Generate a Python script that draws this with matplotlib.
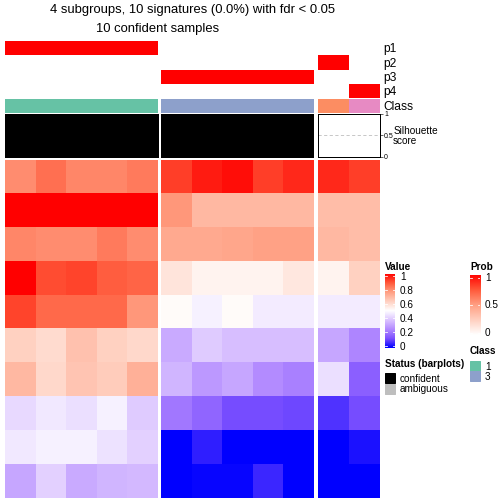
import matplotlib
matplotlib.use("Agg")
import matplotlib.pyplot as plt
import numpy as np
from matplotlib.colors import LinearSegmentedColormap
from matplotlib.patches import Rectangle

plt.rcParams['font.family'] = ['Liberation Sans', 'DejaVu Sans']

W = H = 504

# ---- data ----
group_sizes = [5, 5, 2]
class_labels = [1, 1, 1, 1, 1, 3, 3, 3, 3, 3, 2, 4]
class_colors = {1: "#66C2A5", 2: "#FC8D62", 3: "#8DA0CB", 4: "#E78AC3"}
legend_classes = [1, 3]

prob_names = ["p1", "p2", "p3", "p4"]
prob_p1 = [1, 1, 1, 1, 1, 0, 0, 0, 0, 0, 0, 0]
prob_p2 = [0, 0, 0, 0, 0, 0, 0, 0, 0, 0, 1, 0]
prob_p3 = [0, 0, 0, 0, 0, 1, 1, 1, 1, 1, 0, 0]
prob_p4 = [0, 0, 0, 0, 0, 0, 0, 0, 0, 0, 0, 1]

silhouette = [1, 1, 1, 1, 1, 1, 1, 1, 1, 1, 0, 0]

values = [
    [0.78, 0.83, 0.79, 0.79, 0.81, 0.91, 0.96, 0.98, 0.91, 0.94, 0.94, 0.91],
    [1.00, 1.00, 1.00, 1.00, 1.00, 0.76, 0.68, 0.68, 0.68, 0.68, 0.67, 0.67],
    [0.79, 0.78, 0.78, 0.81, 0.78, 0.72, 0.72, 0.73, 0.74, 0.74, 0.68, 0.67],
    [1.00, 0.89, 0.90, 0.86, 0.85, 0.57, 0.53, 0.53, 0.53, 0.56, 0.53, 0.62],
    [0.90, 0.84, 0.84, 0.84, 0.76, 0.51, 0.47, 0.51, 0.46, 0.46, 0.46, 0.46],
    [0.62, 0.59, 0.66, 0.62, 0.60, 0.32, 0.39, 0.36, 0.36, 0.36, 0.31, 0.24],
    [0.68, 0.60, 0.65, 0.63, 0.70, 0.34, 0.28, 0.31, 0.25, 0.23, 0.43, 0.16],
    [0.42, 0.45, 0.43, 0.47, 0.39, 0.21, 0.17, 0.12, 0.12, 0.11, 0.08, 0.12],
    [0.45, 0.47, 0.47, 0.44, 0.40, 0.00, 0.05, 0.00, 0.00, 0.00, 0.00, 0.03],
    [0.31, 0.40, 0.32, 0.34, 0.35, 0.00, 0.01, 0.01, 0.06, 0.00, 0.00, 0.00],
]

title_line1 = "4 subgroups, 10 signatures (0.0%) with fdr < 0.05"
title_line2 = "10 confident samples"

# ---- colours ----
value_stops = [(0.0, (0, 0, 255)), (0.125, (126, 81, 255)), (0.25, (179, 139, 255)),
               (0.375, (220, 197, 255)), (0.5, (255, 255, 255)), (0.625, (255, 207, 191)),
               (0.75, (255, 158, 129)), (0.875, (255, 87, 56)), (1.0, (255, 0, 0))]
value_cmap = LinearSegmentedColormap.from_list(
    "val", [(p, tuple(c / 255 for c in col)) for p, col in value_stops])
prob_stops = [(0.0, (255, 255, 255)), (0.25, (255, 207, 191)), (0.5, (255, 158, 129)),
              (0.75, (255, 87, 56)), (1.0, (255, 0, 0))]
prob_cmap = LinearSegmentedColormap.from_list(
    "prob", [(p, tuple(c / 255 for c in col)) for p, col in prob_stops])

fig = plt.figure(figsize=(W / 72, H / 72), dpi=72)


def px_axes(x0, y0, x1, y1):
    return fig.add_axes([x0 / W, 1 - y1 / H, (x1 - x0) / W, (y1 - y0) / H])


def bare(ax):
    ax.set_xticks([])
    ax.set_yticks([])
    for s in ax.spines.values():
        s.set_visible(False)


def ftext(x, y, s, **kw):
    kw.setdefault('ha', 'left')
    kw.setdefault('va', 'center')
    fig.text(x / W, 1 - y / H, s, **kw)


group_x = [(5, 158), (160.5, 313), (318, 380)]
vals = np.array(values)
probs = np.array([prob_p1, prob_p2, prob_p3, prob_p4])
prob_rows = [(41, 55.5), (55.5, 69.7), (69.7, 83.8), (83.8, 97.8)]

start = 0
for gi, n in enumerate(group_sizes):
    x0, x1 = group_x[gi]
    cols = slice(start, start + n)

    # probability rows
    for ri, (y0, y1) in enumerate(prob_rows):
        ax = px_axes(x0, y0, x1, y1)
        ax.imshow(probs[ri:ri + 1, cols], cmap=prob_cmap, vmin=0, vmax=1,
                  aspect='auto', interpolation='nearest')
        bare(ax)

    # class row
    ax = px_axes(x0, 99, x1, 113)
    ccols = [matplotlib.colors.to_rgb(class_colors[c]) for c in class_labels[cols]]
    ax.imshow([ccols], aspect='auto', interpolation='nearest')
    bare(ax)

    # silhouette barplot
    ax = px_axes(x0, 114, x1, 156.5)
    sil = silhouette[cols]
    ax.axhline(0.5, color='#bbbbbb', lw=0.8, ls=(0, (4, 3)), zorder=0)
    ax.bar(np.arange(n) + 0.5, sil, width=1.0, color='black', zorder=2)
    ax.set_xlim(0, n)
    ax.set_ylim(0, 1)
    ax.set_xticks([])
    for s in ax.spines.values():
        s.set_linewidth(1.0)
    if gi == len(group_sizes) - 1:
        ax.yaxis.tick_right()
        ax.set_yticks([0, 0.5, 1])
        ax.set_yticklabels(["0", "0.5", "1"], fontsize=7)
        ax.tick_params(axis='y', length=3, width=0.6, pad=1)
    else:
        ax.set_yticks([])

    # heatmap body
    ax = px_axes(x0, 160, x1, 498.5)
    ax.imshow(vals[:, cols], cmap=value_cmap, vmin=0, vmax=1,
              aspect='auto', interpolation='nearest')
    bare(ax)
    start += n

# titles
ftext(193, 10, title_line1, ha='center', fontsize=13)
ftext(158, 29, title_line2, ha='center', fontsize=13)

# annotation names
for name, (y0, y1) in zip(prob_names, prob_rows):
    ftext(383, (y0 + y1) / 2 + 1, name, fontsize=12)
ftext(383, 107, "Class", fontsize=12)
ftext(394, 131, "Silhouette", fontsize=10)
ftext(393, 141.5, "score", fontsize=10)

LF = 10  # legend font size

# Value legend
ftext(385, 267, "Value", fontsize=LF, fontweight='bold')
ax = px_axes(385, 273.5, 395, 348.5)
ax.imshow(np.linspace(1, 0, 200)[:, None], cmap=value_cmap, vmin=0, vmax=1,
          aspect='auto', extent=[0, 1, -0.04, 1.04])
ax.set_xlim(0, 1)
ax.set_ylim(-0.04, 1.04)
for t in [0, 0.2, 0.4, 0.6, 0.8, 1]:
    ax.plot([0, 0.2], [t, t], color='white', lw=0.8)
    ax.plot([0.8, 1], [t, t], color='white', lw=0.8)
    ftext(400, 346.5 - t * 69, f"{t:g}", fontsize=LF)
bare(ax)

# Prob legend
ftext(470, 267, "Prob", fontsize=LF, fontweight='bold')
ax = px_axes(470, 275, 480, 335.5)
ax.imshow(np.linspace(1, 0, 200)[:, None], cmap=prob_cmap, vmin=0, vmax=1,
          aspect='auto', extent=[0, 1, -0.05, 1.05])
ax.set_xlim(0, 1)
ax.set_ylim(-0.05, 1.05)
for t in [0, 0.5, 1]:
    ax.plot([0, 0.2], [t, t], color='white', lw=0.8)
    ax.plot([0.8, 1], [t, t], color='white', lw=0.8)
    ftext(485, 333 - t * 55.3, f"{t:g}", fontsize=LF)
bare(ax)

# Class legend
ftext(470, 351, "Class", fontsize=LF, fontweight='bold')
for i, c in enumerate(legend_classes):
    y0 = 361 + i * 10
    fig.patches.append(Rectangle((470 / W, 1 - (y0 + 10) / H), 10 / W, 10 / H,
                                 transform=fig.transFigure, color=class_colors[c]))
    ftext(485, y0 + 5.5, str(c), fontsize=LF)

# Status legend
ftext(385, 364, "Status (barplots)", fontsize=LF, fontweight='bold')
for i, (lab, col) in enumerate([("confident", "black"), ("ambiguous", "#bebebe")]):
    y0 = 373 + i * 10.5
    fig.patches.append(Rectangle((385 / W, 1 - (y0 + 10) / H), 10 / W, 10 / H,
                                 transform=fig.transFigure, color=col))
    ftext(400, y0 + 5.5, lab, fontsize=LF)

fig.savefig("out.png", dpi=72)
